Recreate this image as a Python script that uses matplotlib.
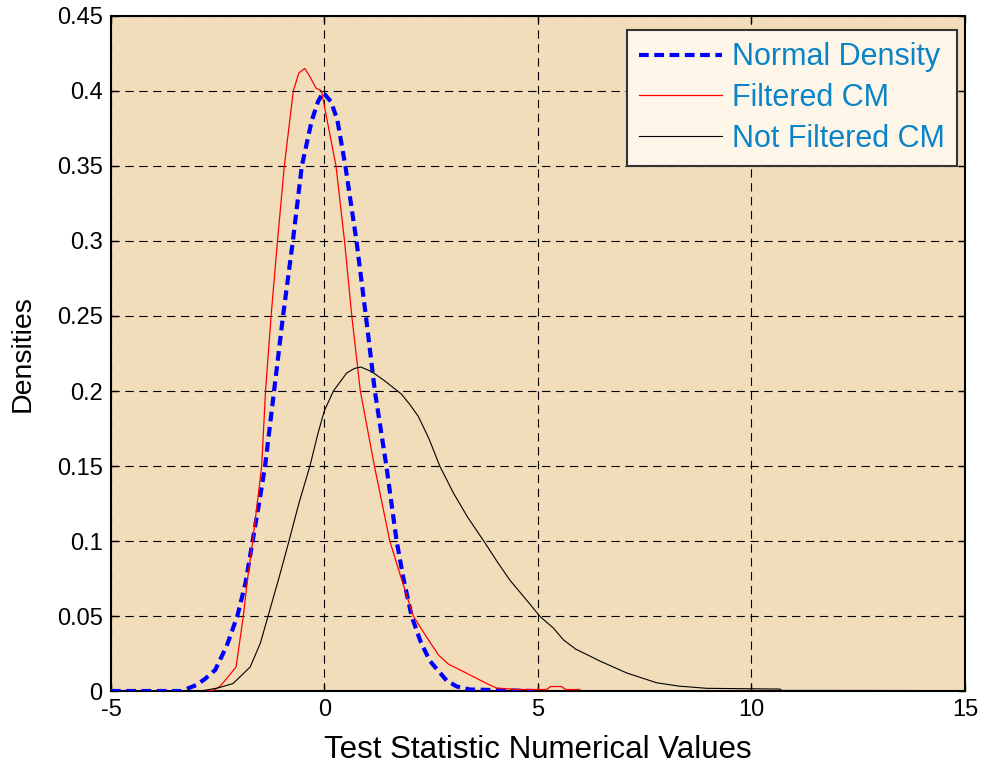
import matplotlib
matplotlib.use("Agg")
import matplotlib.pyplot as plt

plt.rcParams['font.family'] = ['Liberation Sans', 'DejaVu Sans']
plt.rcParams['lines.scale_dashes'] = False
plt.rcParams['axes.unicode_minus'] = False

# Normal density reference curve
normal_x = [-5.0, -3.35, -3.0, -2.8, -2.56, -2.29, -2.14, -2.04, -1.85, -1.70, -1.55, -1.39,
            -1.18, -0.97, -0.74, -0.53, -0.30, -0.15, -0.03, 0.15, 0.30, 0.49, 0.75, 0.97,
            1.18, 1.45, 1.69, 1.85, 2.04, 2.25, 2.47, 2.86, 3.1, 3.41, 4.9]
normal_y = [0.0, 0.0, 0.004, 0.008, 0.014, 0.030, 0.042, 0.050, 0.072, 0.097, 0.122, 0.150,
            0.200, 0.250, 0.300, 0.350, 0.380, 0.393, 0.399, 0.393, 0.381, 0.350, 0.300, 0.250,
            0.200, 0.150, 0.100, 0.075, 0.050, 0.033, 0.020, 0.007, 0.003, 0.001, 0.0]

# Filtered CM density
filtered_x = [-2.80, -2.60, -2.45, -2.30, -2.07, -1.90, -1.80, -1.68, -1.47, -1.38, -1.25, -1.10,
              -0.94, -0.73, -0.60, -0.46, -0.35, -0.20, -0.07, 0.10, 0.27, 0.47, 0.64, 0.84,
              1.17, 1.53, 1.80, 2.08, 2.39, 2.67, 2.90, 3.25, 3.56, 3.80, 4.03, 4.5, 5.2, 5.3,
              5.55, 5.65, 5.98]
filtered_y = [0.0, 0.0005, 0.003, 0.008, 0.016, 0.050, 0.075, 0.100, 0.150, 0.200, 0.250, 0.300,
              0.350, 0.400, 0.412, 0.415, 0.410, 0.402, 0.400, 0.375, 0.350, 0.300, 0.250, 0.200,
              0.150, 0.100, 0.075, 0.050, 0.036, 0.024, 0.018, 0.013, 0.0085, 0.005, 0.002, 0.001,
              0.001, 0.003, 0.003, 0.001, 0.001]

# Not filtered CM density
raw_x = [-2.90, -2.50, -2.14, -1.74, -1.50, -1.32, -1.05, -0.84, -0.60, -0.34, -0.15, 0.0, 0.21,
         0.52, 0.70, 0.85, 1.10, 1.40, 1.80, 2.00, 2.20, 2.45, 2.70, 3.02, 3.35, 3.74, 4.05, 4.34,
         4.81, 5.05, 5.36, 5.60, 5.88, 6.45, 7.08, 7.78, 8.29, 8.95, 10.67, 10.70, 14.95]
raw_y = [0.0, 0.002, 0.005, 0.016, 0.032, 0.050, 0.077, 0.099, 0.125, 0.150, 0.172, 0.187, 0.200,
         0.212, 0.215, 0.216, 0.213, 0.207, 0.198, 0.191, 0.183, 0.168, 0.150, 0.132, 0.116,
         0.0996, 0.086, 0.074, 0.058, 0.0496, 0.042, 0.034, 0.028, 0.020, 0.012, 0.0055, 0.0033,
         0.0018, 0.0013, 0.0004, 0.0003]

series_labels = ['Normal Density', 'Filtered CM', 'Not Filtered CM']
x_ticks = [-5, 0, 5, 10, 15]
y_ticks = [0, 0.05, 0.1, 0.15, 0.2, 0.25, 0.3, 0.35, 0.4, 0.45]
y_tick_labels = ['0', '0.05', '0.1', '0.15', '0.2', '0.25', '0.3', '0.35', '0.4', '0.45']

fig = plt.figure(figsize=(9.88, 7.72), dpi=100)
ax = fig.add_axes([0.1123, 0.1049, 0.8644, 0.8744])
ax.set_facecolor('#F2DDBA')

ax.plot(normal_x, normal_y, color='#0000FF', lw=3.0, dashes=(7, 4), label=series_labels[0], zorder=3)
ax.plot(filtered_x, filtered_y, color='#FF0000', lw=0.9, label=series_labels[1], zorder=4)
ax.plot(raw_x, raw_y, color='black', lw=0.8, label=series_labels[2], zorder=4)

ax.set_xlim(-5, 15)
ax.set_ylim(0, 0.45)
ax.set_xticks(x_ticks)
ax.set_yticks(y_ticks)
ax.set_yticklabels(y_tick_labels)
ax.grid(True, color='black', lw=0.8, linestyle=(0, (6, 4)))
ax.tick_params(direction='in', length=5, width=1, top=True, right=True, labelsize=17)
ax.tick_params(axis='x', pad=6)
ax.tick_params(axis='y', pad=6)
for s in ax.spines.values():
    s.set_linewidth(1.5)

ax.set_xlabel('Test Statistic Numerical Values', fontsize=22.5, labelpad=10)
ax.set_ylabel('Densities', fontsize=20.5, labelpad=15)

leg = ax.legend(loc='upper right', bbox_to_anchor=(0.9906, 0.979), fontsize=22,
                frameon=True, fancybox=False, framealpha=1, handlelength=2.7,
                handletextpad=0.33, labelspacing=0.35, borderpad=0.4, borderaxespad=0)
leg.get_frame().set_facecolor('#FFF6EA')
leg.get_frame().set_edgecolor('#333333')
leg.get_frame().set_linewidth(1.5)
for t in leg.get_texts():
    t.set_color('#0A84C8')

fig.savefig('out.png', dpi=100)
